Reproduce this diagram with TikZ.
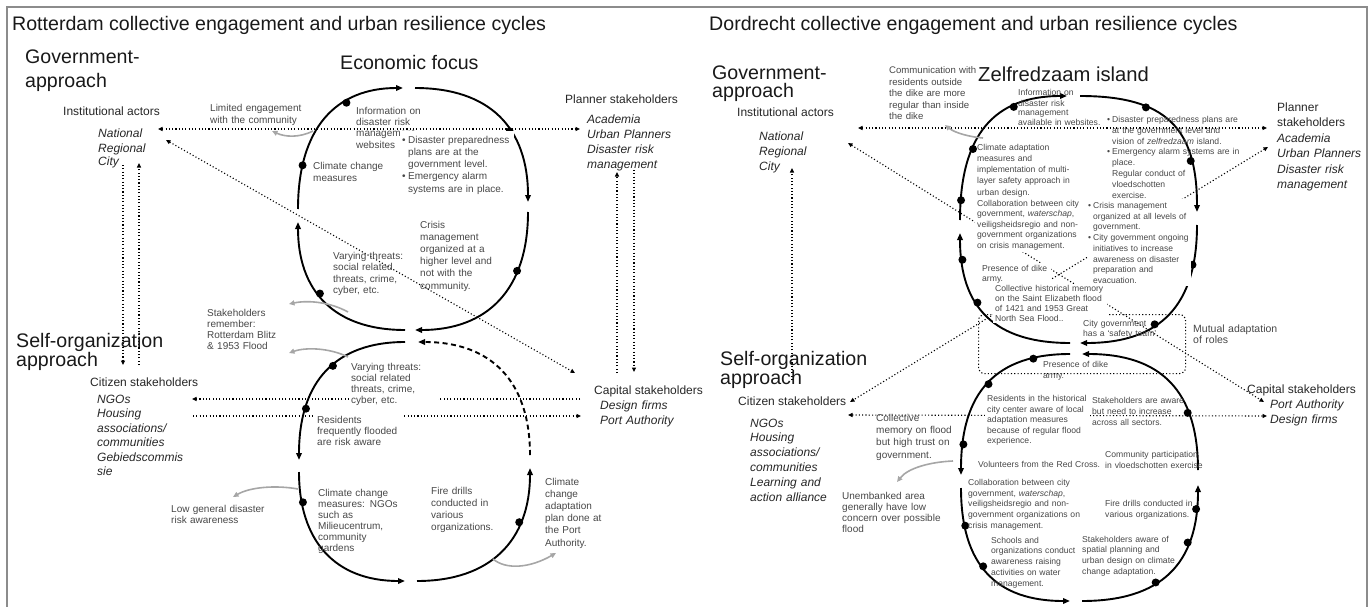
\documentclass[tikz,border=0pt]{standalone}
\usepackage{fontspec}
\setmainfont{Liberation Sans}
\usetikzlibrary{arrows.meta}
\pgfdeclarelayer{lines}
\pgfsetlayers{lines,main}
\newcommand\lbul{\makebox[6pt][l]{\textbullet}}
\newcommand\lind{\hspace*{6pt}}
\newcommand\rbul{\makebox[5pt][l]{\textbullet}}
\newcommand\rind{\hspace*{5pt}}
\tikzset{
  txtbase/.style={anchor=base west, inner sep=0pt, align=left},
  ttl/.style={anchor=base west, inner sep=0pt, font=\fontsize{19.6}{23}\selectfont, text=black!90},
  hdg/.style={txtbase, text width=190pt, font=\fontsize{19.6}{19}\selectfont, text=black!90},
  lbl/.style={anchor=base west, inner sep=0pt, font=\fontsize{12}{14.8}\selectfont, text=black!85},
  lst/.style={txtbase, text width=120pt, font=\fontsize{12}{14.8}\selectfont\itshape, text=black!85},
  ltx/.style={txtbase, text width=#1, font=\fontsize{10}{12.2}\selectfont, text=black!72},
  rtx/.style={txtbase, text width=#1, font=\fontsize{8.6}{10.7}\selectfont, text=black!72},
  wbox/.style={fill=white, inner xsep=2pt, inner ysep=3pt},
  cyc/.style={line width=1.9pt, -{Triangle[length=7pt,width=5.5pt]}},
  dsh/.style={dash pattern=on 5pt off 3.5pt},
  dt/.style={circle, fill=black, minimum size=8pt, inner sep=0pt},
  dl/.style={line width=1.1pt, dash pattern=on 1.1pt off 2.2pt},
  garr/.style={line width=1.6pt, black!35, -{Triangle[length=5.5pt,width=5pt]}},
  frm/.style={line width=1.4pt, black!45},
}
\begin{document}
\hyphenpenalty=10000
\exhyphenpenalty=10000
\begin{tikzpicture}[x=1pt,y=-1pt,>={Triangle[length=4.5pt,width=4pt]}]
\useasboundingbox (0,0) rectangle (1370,607);

% ---------- connector end points: Rotterdam
\coordinate (lInstE) at (158,129);
\coordinate (lPlanW) at (580,129);
\coordinate (lInstSE) at (166,140);
\coordinate (lCapNW) at (575,373);
\coordinate (lInstS1) at (123,165);
\coordinate (lCitN1) at (123,365);
\coordinate (lInstS2) at (139,163);
\coordinate (lCitN2) at (139,365);
\coordinate (lPlanS1) at (617,172);
\coordinate (lCapN1) at (617,373);
\coordinate (lPlanS2) at (634,170);
\coordinate (lCapN2) at (634,372);
\coordinate (lCitE1) at (192,399);
\coordinate (lCapW1) at (580,399);
\coordinate (lCitE2) at (193,416);
\coordinate (lCapW2) at (581,416);
% ---------- connector end points: Dordrecht
\coordinate (rInstE) at (858,128);
\coordinate (rPlanW) at (1267,128);
\coordinate (rInstSE) at (848,143);
\coordinate (rCapNW) at (1264,402);
\coordinate (rPlanSW) at (1268,147);
\coordinate (rCitNE) at (850,402);
\coordinate (rInstS) at (792,168);
\coordinate (rCitN) at (792,380);
\coordinate (rCitE) at (848,415);
\coordinate (rCapW) at (1267,416);
% ---------- side remarks (grey arrows)
\coordinate (g1s) at (313,131);  \coordinate (g1e) at (272,131);
\coordinate (g2s) at (348,312);  \coordinate (g2e) at (289,304);
\coordinate (g3s) at (348,357);  \coordinate (g3e) at (289,353);
\coordinate (g4s) at (298,489);  \coordinate (g4e) at (233,497);
\coordinate (g5s) at (493,559);  \coordinate (g5e) at (556,553);
\coordinate (g6s) at (983,138);  \coordinate (g6e) at (945,125);
\coordinate (g7s) at (953,461);  \coordinate (g7e) at (897,482);

\begin{pgfonlayer}{lines}
\draw[frm] (7,607) -- (7,7) -- (1367,7) -- (1367,607);

% Rotterdam: upper cycle
\draw[cyc, shorten >=10pt] (298,209) .. controls (298,128) and (336,88) .. (413,88)
  node[dt,pos=.2] (lu1) {} node[dt,pos=.65] (lu2) {};
\draw[cyc, shorten <=2pt, shorten >=7pt] (413,88) .. controls (490,88) and (528,128) .. (528,209)
  node[dt,pos=.6] (lu3) {};
\draw[cyc, shorten <=3pt, shorten >=5pt] (528,209) .. controls (528,290) and (487,330) .. (410,330)
  node[dt,pos=.3] (lu4) {};
\draw[cyc, shorten <=5pt, shorten >=13pt] (410,330) .. controls (333,330) and (298,290) .. (298,209)
  node[dt,pos=.55] (lu5) {};
% Rotterdam: lower cycle
\draw[cyc, shorten <=7pt, shorten >=1pt] (412,342) .. controls (336,342) and (299,381) .. (299,461)
  node[dt,pos=.45] (ll1) {} node[dt,pos=.75] (ll2) {};
\draw[cyc, shorten <=11pt, shorten >=6pt] (299,461) .. controls (299,541) and (335,581) .. (411,581)
  node[dt,pos=.19] (ll3) {};
\draw[cyc, shorten <=6pt, shorten >=7pt] (411,581) .. controls (490,581) and (530,541) .. (530,461)
  node[dt,pos=.7] (ll4) {};
\draw[cyc, dsh, shorten <=6pt, shorten >=6pt] (530,461) .. controls (530,381) and (491,342) .. (412,342);

% Dordrecht: upper cycle
\draw[cyc, shorten <=6pt, shorten >=6pt] (960,226) .. controls (960,135) and (994,96) .. (1073,96)
  node[dt,pos=.1] (ru1) {} node[dt,pos=.35] (ru2) {} node[dt,pos=.7] (ru3) {};
\draw[cyc, shorten <=7pt, shorten >=6pt] (1073,96) .. controls (1166,96) and (1197,128) .. (1197,218)
  node[dt,pos=.33] (ru4) {} node[dt,pos=.75] (ru5) {};
\draw[cyc, shorten <=7pt, shorten >=5pt] (1197,218) .. controls (1197,306) and (1160,343) .. (1075,343)
  node[dt,pos=.2] (ru6) {} node[dt,pos=.6] (ru7) {};
\draw[cyc, shorten <=5pt, shorten >=7pt] (1075,343) .. controls (995,343) and (960,308) .. (960,226)
  node[dt,pos=.6] (ru8) {} node[dt,pos=.85] (ru9) {};
% Dordrecht: lower cycle
\draw[cyc, shorten <=6pt, shorten >=6pt] (1076,354) .. controls (996,354) and (961,392) .. (961,481)
  node[dt,pos=.2] (rl1) {} node[dt,pos=.5] (rl2) {} node[dt,pos=.85] (rl3) {};
\draw[cyc, shorten <=7pt, shorten >=6pt] (961,481) .. controls (961,565) and (996,601) .. (1076,601)
  node[dt,pos=.2] (rl4) {} node[dt,pos=.45] (rl5) {};
\draw[cyc, shorten <=6pt, shorten >=7pt] (1076,601) .. controls (1161,601) and (1198,564) .. (1198,478)
  node[dt,pos=.4] (rl6) {} node[dt,pos=.7] (rl7) {} node[dt,pos=.87] (rl8) {};
\draw[cyc, shorten <=8pt, shorten >=6pt] (1198,478) .. controls (1198,391) and (1161,354) .. (1076,354)
  node[dt,pos=.3] (rl9) {};

% stakeholder links, Rotterdam
\draw[dl, <->] (lInstE) -- (lPlanW);
\draw[dl, <->] (lInstSE) -- (lCapNW);
\draw[dl, ->] (lInstS1) -- (lCitN1);
\draw[dl, ->] (lCitN2) -- (lInstS2);
\draw[dl, ->] (lCapN1) -- (lPlanS1);
\draw[dl, ->] (lPlanS2) -- (lCapN2);
\draw[dl, ->] (lCapW1) -- (lCitE1);
\draw[dl, ->] (lCitE2) -- (lCapW2);
% stakeholder links, Dordrecht
\draw[dl, <->] (rInstE) -- (rPlanW);
\draw[dl, <->] (rInstSE) -- (rCapNW);
\draw[dl, <->] (rPlanSW) -- (rCitNE);
\draw[dl, ->] (rCitN) -- (rInstS);
\draw[dl, <->] (rCitE) -- (rCapW);
\node[draw, dl, rounded corners=6pt, minimum width=207pt, minimum height=59pt,
      anchor=north west, inner sep=0pt] (mutualbox) at (978,314) {};

% side remarks
\draw[garr] (g1s) .. controls (299,138) and (285,137) .. (g1e);
\draw[garr] (g2s) .. controls (330,302) and (308,300) .. (g2e);
\draw[garr] (g3s) .. controls (330,348) and (306,347) .. (g3e);
\draw[garr] (g4s) .. controls (276,485) and (250,487) .. (g4e);
\draw[garr] (g5s) .. controls (506,570) and (530,568) .. (g5e);
\draw[garr] (g6s) .. controls (970,137) and (955,133) .. (g6e);
\draw[garr] (g7s) .. controls (930,462) and (908,468) .. (g7e);
\end{pgfonlayer}

% ================= Rotterdam texts
\node[ttl] (ltitle) at (12,31) {Rotterdam collective engagement and urban resilience cycles};
\node[hdg, font=\fontsize{19.6}{23.5}\selectfont] (lgov) at (25,64) {Government-\\approach};
\node[ttl] (lecon) at (340,70) {Economic focus};
\node[lbl] (linst) at (63,116) {Institutional actors};
\node[lst, font=\fontsize{12}{14}\selectfont\itshape] (linstl) at (98,138) {National\\Regional\\City};
\node[ltx=120pt, font=\fontsize{10}{11.3}\selectfont] (llim) at (210,112) {Limited engagement\\with the community};
\node[ltx=80pt, font=\fontsize{10}{11.5}\selectfont] (linfo) at (356,114) {Information on\\disaster risk\\management\\websites};
\node[ltx=110pt, wbox, inner ysep=5pt, font=\fontsize{10}{12.3}\selectfont] (lprep) at (400,143)
  {\lbul Disaster preparedness\\\lind plans are at the\\\lind government level.\\\lbul Emergency alarm\\\lind systems are in place.};
\node[ltx=80pt, font=\fontsize{10}{12}\selectfont] (lclim) at (313,169) {Climate change\\measures};
\node[ltx=90pt] (lcris) at (420,228) {Crisis\\management\\organized at a\\higher level and\\not with the\\community.};
\node[ltx=90pt, font=\fontsize{10}{11.5}\selectfont] (lvar1) at (333,259) {Varying threats:\\social related\\threats, crime,\\cyber, etc.};
\node[ltx=90pt, font=\fontsize{10}{11.2}\selectfont] (lstk) at (207,316) {Stakeholders\\remember:\\Rotterdam Blitz\\\& 1953 Flood};
\node[hdg] (lself) at (16,347) {Self-organization\\approach};
\node[lbl] (lcit) at (90,386) {Citizen stakeholders};
\node[lst, font=\fontsize{12}{14.5}\selectfont\itshape] (lcitl) at (97,403) {NGOs\\Housing\\associations/\\communities\\Gebiedscommis\\sie};
\node[ltx=85pt, wbox, font=\fontsize{10}{11.1}\selectfont] (lvar2) at (349,370) {Varying threats:\\social related\\threats, crime,\\cyber, etc.};
\node[ltx=84pt, wbox, font=\fontsize{10}{11}\selectfont] (lres) at (315,423) {Residents\\frequently flooded\\are risk aware};
\node[ltx=90pt, font=\fontsize{10}{11}\selectfont] (lclim2) at (318,496) {Climate change\\measures: NGOs\\such as\\Milieucentrum,\\community\\gardens};
\node[ltx=90pt, font=\fontsize{10}{12.3}\selectfont] (lfire) at (431,494) {Fire drills\\conducted in\\various\\organizations.};
\node[ltx=80pt] (lccap) at (545,485) {Climate\\change\\adaptation\\plan done at\\the Port\\Authority.};
\node[ltx=120pt, font=\fontsize{10}{11}\selectfont] (llow) at (171,512.5) {Low general disaster\\risk awareness};
\node[lbl] (lplan) at (565,104) {Planner stakeholders};
\node[lst] (lplanl) at (587,124) {Academia\\Urban Planners\\Disaster risk\\management};
\node[lbl] (lcap) at (594,394) {Capital stakeholders};
\node[lst, font=\fontsize{12}{15}\selectfont\itshape] (lcapl) at (600,409) {Design firms\\Port Authority};

% ================= Dordrecht texts
\node[ttl] (rtitle) at (709,31) {Dordrecht collective engagement and urban resilience cycles};
\node[hdg, font=\fontsize{19.6}{18}\selectfont] (rgov) at (712,80) {Government-\\approach};
\node[ttl, font=\fontsize{20.2}{24}\selectfont] (rzelf) at (978,81.5) {Zelfredzaam island};
\node[rtx=110pt, font=\fontsize{9.6}{11.6}\selectfont] (rcomm) at (889,73.5) {Communication with\\residents outside\\the dike are more\\regular than inside\\the dike};
\node[rtx=110pt, font=\fontsize{8.6}{10}\selectfont] (rinfo) at (1018,96) {Information on\\disaster risk\\management\\available in websites.};
\node[rtx=150pt, font=\fontsize{8.6}{10.8}\selectfont] (rprep) at (1107,122.5)
  {\rbul Disaster preparedness plans are\\\rind at the government level and\\\rind vision of \textit{zelfredzaam} island.\\\rbul Emergency alarm systems are in\\\rind place.\\\rind Regular conduct of\\\rind vloedschotten\\\rind exercise.};
\node[rtx=103pt, wbox, inner xsep=0pt, font=\fontsize{8.5}{10.7}\selectfont] (rcris) at (1088,208.5)
  {\rbul Crisis management\\\rind organized at all levels of\\\rind government.\\\rbul City government ongoing\\\rind initiatives to increase\\\rind awareness on disaster\\\rind preparation and\\\rind evacuation.};
\node[rtx=110pt, font=\fontsize{8.6}{11.3}\selectfont] (rclim) at (977,150) {Climate adaptation\\measures and\\implementation of multi-\\layer safety approach in\\urban design.};
\node[rtx=104pt, wbox, inner ysep=2pt, font=\fontsize{8.6}{10.5}\selectfont] (rcol1) at (975,206) {Collaboration between city\\government, \textit{waterschap},\\veiligsheidsregio and non-\\government organizations\\on crisis management.};
\node[rtx=67pt, wbox, inner ysep=2pt, font=\fontsize{8.6}{10.5}\selectfont] (rpre1) at (980,271) {Presence of dike\\army.};
\node[rtx=110pt, wbox, inner ysep=1pt, font=\fontsize{8.6}{10.3}\selectfont] (rhist) at (993,291) {Collective historical memory\\on the Saint Elizabeth flood\\of 1421 and 1953 Great\\North Sea Flood..};
\node[rtx=90pt, font=\fontsize{8.6}{10.5}\selectfont] (rcity) at (1083,326) {City government\\has a ‘safety team’};
\node[ltx=90pt, font=\fontsize{10.5}{11}\selectfont] (rmut) at (1193,332) {Mutual adaptation\\of roles};
\node[rtx=80pt, font=\fontsize{8.6}{10.5}\selectfont] (rpre2) at (1043,367.5) {Presence of dike\\army.};
\node[hdg, font=\fontsize{19.6}{18}\selectfont] (rself) at (720,365) {Self-organization\\approach};
\node[lbl] (rinst) at (737,117) {Institutional actors};
\node[lst, font=\fontsize{12}{15}\selectfont\itshape] (rinstl) at (759,140.5) {National\\Regional\\City};
\node[txtbase, text width=90pt, font=\fontsize{12}{15.5}\selectfont, text=black!85] (rplan) at (1277,111.5)
  {Planner\\stakeholders\\\textit{Academia}\\\textit{Urban Planners}\\\textit{Disaster risk}\\\textit{management}};
\node[lbl] (rcit) at (738,405.5) {Citizen stakeholders};
\node[lst, font=\fontsize{12}{14.8}\selectfont\itshape] (rcitl) at (750,427) {NGOs\\Housing\\associations/\\communities\\Learning and\\action alliance};
\node[rtx=101pt, wbox, font=\fontsize{8.6}{10.5}\selectfont] (rres) at (985,401.5) {Residents in the historical\\city center aware of local\\adaptation measures\\because of regular flood\\experience.};
\node[rtx=110pt, font=\fontsize{8.6}{11}\selectfont] (rstk) at (1092,403.5) {Stakeholders are aware\\but need to increase\\across all sectors.};
\node[ltx=100pt] (rcm) at (876,421.5) {Collective\\memory on flood\\but high trust on\\government.};
\node[ltx=110pt, font=\fontsize{10}{11}\selectfont] (runb) at (842,499.5) {Unembanked area\\generally have low\\concern over possible\\flood};
\node[rtx=150pt] (rvol) at (978,467) {Volunteers from the Red Cross.};
\node[rtx=110pt, font=\fontsize{8.6}{11}\selectfont] (rcp) at (1105,457) {Community participation\\in vloedschotten exercise};
\node[rtx=120pt] (rcol2) at (968,485.5) {Collaboration between city\\government, \textit{waterschap},\\veiligsheidsregio and non-\\government organizations on\\crisis management.};
\node[rtx=110pt, font=\fontsize{8.6}{11}\selectfont] (rfire) at (1105,506.5) {Fire drills conducted in\\various organizations.};
\node[rtx=110pt, font=\fontsize{8.6}{10.8}\selectfont] (rsch) at (991,543) {Schools and\\organizations conduct\\awareness raising\\activities on water\\management.};
\node[rtx=120pt] (rspa) at (1082,542) {Stakeholders aware of\\spatial planning and\\urban design on climate\\change adaptation.};
\node[lbl] (rcap) at (1247,393.5) {Capital stakeholders};
\node[lst, font=\fontsize{12}{14.5}\selectfont\itshape] (rcapl) at (1270,408.5) {Port Authority\\Design firms};
\end{tikzpicture}
\end{document}
